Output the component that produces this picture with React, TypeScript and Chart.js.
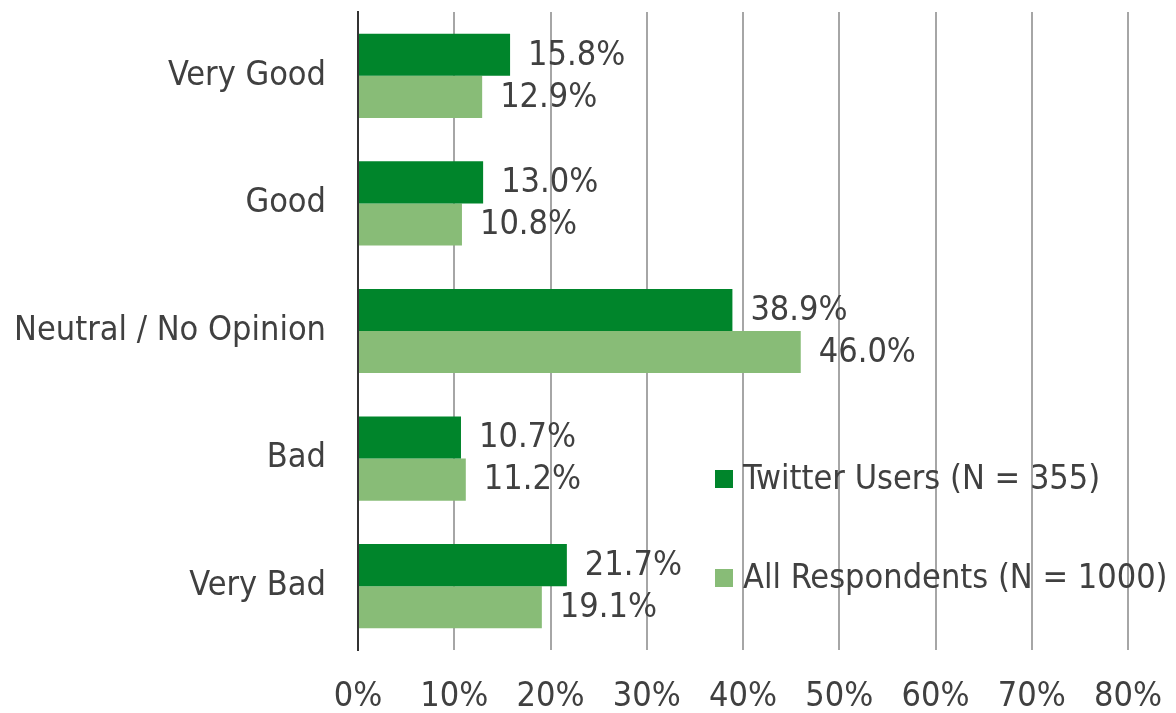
import React, { useEffect, useRef } from "react";
import { Chart, registerables } from "chart.js";

Chart.register(...registerables);

const categories = ["Very Good", "Good", "Neutral / No Opinion", "Bad", "Very Bad"];
const twitterUsers = [15.8, 13.0, 38.9, 10.7, 21.7];
const allRespondents = [12.9, 10.8, 46.0, 11.2, 19.1];
const seriesNames = ["Twitter Users (N = 355)", "All Respondents (N = 1000)"];
const xTicks = [0, 10, 20, 30, 40, 50, 60, 70, 80];

const DARK = "#00852B";
const LIGHT = "#88BC77";
const TEXT = "#404040";
const FONT_FAMILY = "'DejaVu Sans Condensed', 'DejaVu Sans', sans-serif";
const FONT_SIZE = 34;

const dataLabelPlugin = {
  id: "dataLabels",
  afterDatasetsDraw(chart: any) {
    const ctx = chart.ctx;
    ctx.save();
    ctx.font = `${FONT_SIZE}px ${FONT_FAMILY}`;
    ctx.fillStyle = TEXT;
    ctx.textBaseline = "middle";
    ctx.textAlign = "left";
    chart.data.datasets.forEach((ds: any, i: number) => {
      const meta = chart.getDatasetMeta(i);
      meta.data.forEach((bar: any, j: number) => {
        const v = ds.data[j];
        ctx.fillText(v.toFixed(1) + "%", bar.x + 18, bar.y + 1);
      });
    });
    ctx.restore();
  },
};

const legendPlugin = {
  id: "insideLegend",
  afterDraw(chart: any) {
    const ctx = chart.ctx;
    ctx.save();
    ctx.font = `${FONT_SIZE}px ${FONT_FAMILY}`;
    ctx.textBaseline = "middle";
    ctx.textAlign = "left";
    const x = 715;
    const ys = [479, 578];
    chart.data.datasets.forEach((ds: any, i: number) => {
      ctx.fillStyle = ds.backgroundColor;
      ctx.fillRect(x, ys[i] - 9, 18, 18);
      ctx.fillStyle = TEXT;
      ctx.fillText(seriesNames[i], x + 28, ys[i] + 1);
    });
    ctx.restore();
  },
};

export default function App() {
  const ref = useRef<HTMLCanvasElement>(null);

  useEffect(() => {
    if (!ref.current) return;
    const chart = new Chart(ref.current, {
      type: "bar",
      data: {
        labels: categories,
        datasets: [
          { label: seriesNames[0], data: twitterUsers, backgroundColor: DARK, barPercentage: 1, categoryPercentage: 0.66 },
          { label: seriesNames[1], data: allRespondents, backgroundColor: LIGHT, barPercentage: 1, categoryPercentage: 0.66 },
        ],
      },
      options: {
        indexAxis: "y",
        animation: false,
        responsive: true,
        maintainAspectRatio: false,
        layout: { padding: { top: 12, right: 48, left: 0, bottom: 0 } },
        plugins: {
          legend: { display: false },
          tooltip: { enabled: false },
        },
        scales: {
          x: {
            min: 0,
            max: 80,
            afterBuildTicks(scale: any) {
              scale.ticks = xTicks.map((v) => ({ value: v }));
            },
            ticks: {
              color: TEXT,
              font: { family: FONT_FAMILY, size: FONT_SIZE },
              padding: 27,
              callback: (v: any) => v + "%",
            },
            grid: { color: "#A6A6A6", lineWidth: 2, drawTicks: false },
            border: { display: false },
            afterFit(scale: any) {
              scale.height = 713 - 650;
              scale.paddingLeft = 0;
              scale.paddingRight = 0;
            },
          },
          y: {
            ticks: {
              color: TEXT,
              font: { family: FONT_FAMILY, size: FONT_SIZE },
              padding: 32,
            },
            grid: { display: false, drawTicks: false },
            border: { display: true, color: "#333333", width: 2 },
            afterFit(scale: any) {
              scale.width = 358;
              scale.paddingTop = 0;
              scale.paddingBottom = 0;
            },
          },
        },
      },
      plugins: [dataLabelPlugin, legendPlugin],
    });
    return () => chart.destroy();
  }, []);

  return (
    <div style={{ position: "fixed", left: 0, top: 0, width: 1176, height: 713, background: "#fff" }}>
      <canvas ref={ref} />
    </div>
  );
}
